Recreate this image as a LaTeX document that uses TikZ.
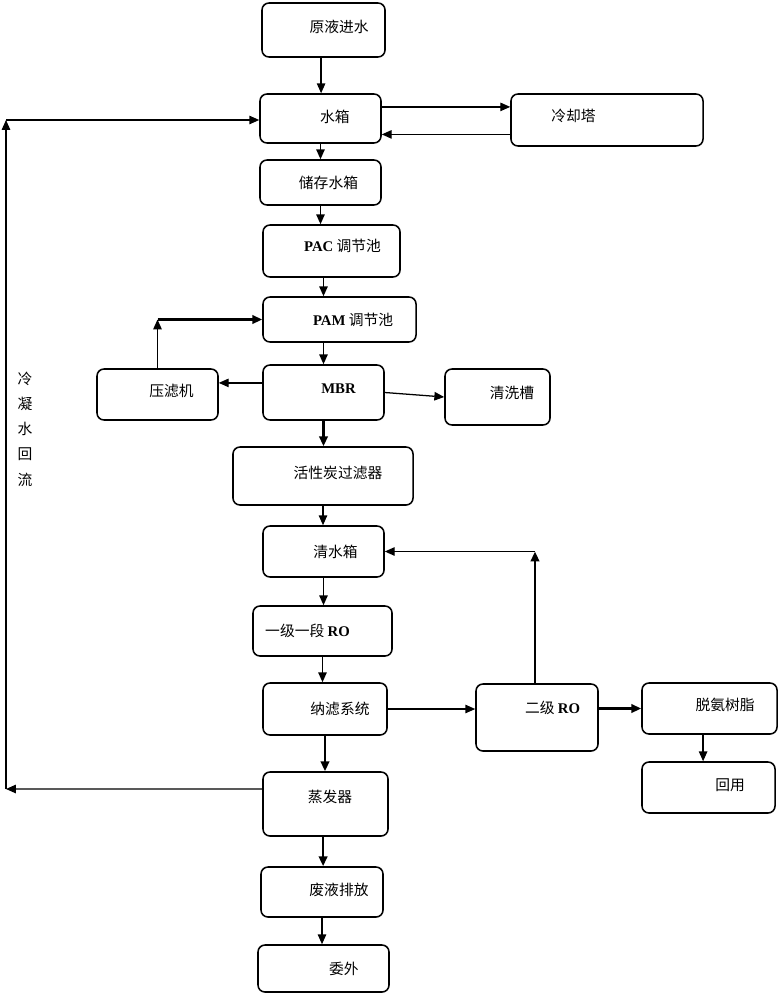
\documentclass[tikz,border=0pt]{standalone}
\usepackage{fontspec}
\setmainfont{Liberation Serif}
\newfontfamily\cjk{Noto Sans CJK SC}
\usepackage{tikz}
\usetikzlibrary{arrows.meta}
\newcommand{\eng}[1]{{\rmfamily\bfseries #1}}

\begin{document}
\begin{tikzpicture}[x=0.025cm, y=-0.025cm,
    box/.style = {draw, line width=1.1pt, rounded corners=5pt},
    txt/.style = {font=\cjk\fontsize{10.5}{12}\selectfont},
    arr/.style = {line width=0.9pt, -{Triangle[length=7pt,width=6pt]}},
    thk/.style = {line width=1.7pt, -{Triangle[length=7pt,width=6pt]}}
    ]
    \useasboundingbox (0,0) rectangle (780,1000);

    % 主流程
    \node[box, minimum width=3.075cm, minimum height=1.35cm,
        label={[txt, xshift=0.39cm, yshift=0.075cm]center:原液进水}] (yuan) at (323.5,30) {};
    \node[box, minimum width=3.025cm, minimum height=1.225cm,
        label={[txt, xshift=0.36cm, yshift=0.04cm]center:水箱}] (shuixiang) at (320.5,118.5) {};
    \node[box, minimum width=4.8cm, minimum height=1.3cm,
        label={[txt, xshift=-0.84cm, yshift=0.1cm]center:冷却塔}] (lengque) at (607,120) {};
    \node[box, minimum width=3.025cm, minimum height=1.125cm,
        label={[txt, xshift=0.2cm]center:储存水箱}] (chucun) at (320.5,182.5) {};
    \node[box, minimum width=3.425cm, minimum height=1.3cm,
        label={[txt, xshift=0.275cm, yshift=0.125cm]center:\eng{PAC} 调节池}] (pac) at (331.5,251) {};
    \node[box, minimum width=3.825cm, minimum height=1.125cm,
        label={[txt, xshift=0.34cm]center:\eng{PAM} 调节池}] (pam) at (339.5,319.5) {};
    \node[box, minimum width=3.025cm, minimum height=1.275cm,
        label={[txt, xshift=0.35cm, yshift=0.09cm]center:压滤机}] (yalv) at (157.5,394.5) {};
    \node[box, minimum width=3.025cm, minimum height=1.375cm,
        label={[txt, xshift=0.375cm, yshift=0.09cm]center:\eng{MBR}}] (mbr) at (323.5,392.5) {};
    \node[box, minimum width=2.625cm, minimum height=1.4cm,
        label={[txt, xshift=0.36cm, yshift=0.1cm]center:清洗槽}] (qingxi) at (497.5,397) {};
    \node[box, minimum width=4.5cm, minimum height=1.45cm,
        label={[txt, xshift=0.375cm, yshift=0.075cm]center:活性炭过滤器}] (huoxing) at (323,476) {};
    \node[box, minimum width=3.025cm, minimum height=1.275cm,
        label={[txt, xshift=0.3cm]center:清水箱}] (qingshui) at (323.5,551.5) {};
    \node[box, minimum width=3.475cm, minimum height=1.25cm,
        label={[txt, xshift=-0.375cm]center:一级一段 \eng{RO}}] (yiji) at (322.5,631) {};
    \node[box, minimum width=3.1cm, minimum height=1.3cm,
        label={[txt, xshift=0.375cm]center:纳滤系统}] (nalv) at (325,709) {};
    \node[box, minimum width=3.05cm, minimum height=1.675cm,
        label={[txt, xshift=0.39cm, yshift=0.24cm]center:二级 \eng{RO}}] (erji) at (537,717.5) {};
    \node[box, minimum width=3.375cm, minimum height=1.275cm,
        label={[txt, xshift=0.39cm, yshift=0.09cm]center:脱氨树脂}] (tuoan) at (709.5,708.5) {};
    \node[box, minimum width=3.325cm, minimum height=1.275cm,
        label={[txt, xshift=0.54cm, yshift=0.06cm]center:回用}] (huiyong) at (708.5,787.5) {};
    \node[box, minimum width=3.125cm, minimum height=1.6cm,
        label={[txt, xshift=0.11cm, yshift=0.175cm]center:蒸发器}] (zhengfa) at (325.5,804) {};
    \node[box, minimum width=3.05cm, minimum height=1.25cm,
        label={[txt, xshift=0.425cm, yshift=0.05cm]center:废液排放}] (feiye) at (322,892) {};
    \node[box, minimum width=3.275cm, minimum height=1.175cm,
        label={[txt, xshift=0.51cm]center:委外}] (weiwai) at (323.5,968.5) {};

    % 冷凝水回流
    \node[txt, align=center, font=\cjk\fontsize{10.5}{18}\selectfont] (huiliu) at (25,429)
        {冷\\凝\\水\\回\\流};
    \coordinate (loopbot) at (6,789);
    \coordinate (looptop) at (6,120);

    % 连线
    \draw[arr] ([xshift=-0.06cm]yuan.south) -- ([xshift=-0.06cm]yuan.south |- shuixiang.north);
    \draw[arr] ([yshift=0.29cm]shuixiang.east) -- ([yshift=0.29cm]shuixiang.east -| lengque.west);
    \draw[arr] ([yshift=-0.36cm]lengque.west) -- ([yshift=-0.36cm]lengque.west -| shuixiang.east);
    \draw[arr] (shuixiang.south) -- (shuixiang.south |- chucun.north);
    \draw[arr] (chucun.south) -- (chucun.south |- pac.north);
    \draw[arr] ([xshift=-0.2cm]pac.south) -- ([xshift=-0.2cm]pac.south |- pam.north);
    \draw[arr] ([xshift=-0.4cm]pam.south) -- ([xshift=-0.4cm]pam.south |- mbr.north);
    \draw[arr] (yalv.north) -- (yalv.north |- pam.west);
    \draw[thk] (yalv.north |- pam.west) -- (pam.west);
    \draw[arr] ([yshift=0.24cm]mbr.west) -- ([yshift=0.24cm]mbr.west -| yalv.east);
    \draw[arr] (mbr.east) -- (qingxi.west);
    \draw[thk] (mbr.south) -- (mbr.south |- huoxing.north);
    \draw[arr] (huoxing.south) -- (huoxing.south |- qingshui.north);
    \draw[arr] (qingshui.south) -- (qingshui.south |- yiji.north);
    \draw[arr] (yiji.south) -- (yiji.south |- nalv.north);
    \draw[thk] (nalv.south) -- (nalv.south |- zhengfa.north);
    \draw[arr] (nalv.east) -- (nalv.east -| erji.west);
    \draw[thk] (erji.east |- tuoan.west) -- (tuoan.west);
    \draw[arr] ([xshift=-0.16cm]tuoan.south) -- ([xshift=-0.16cm]tuoan.south |- huiyong.north);
    \draw[thk] ([xshift=-0.05cm]erji.north) -- ([xshift=-0.05cm]erji.north |- qingshui.east);
    \draw[arr] ([xshift=-0.05cm]erji.north |- qingshui.east) -- (qingshui.east);
    \draw[thk] ([xshift=-0.06cm]zhengfa.south) -- ([xshift=-0.06cm]zhengfa.south |- feiye.north);
    \draw[arr] (feiye.south) -- (feiye.south |- weiwai.north);
    \draw[arr] ([yshift=0.375cm]zhengfa.west) -- (loopbot);
    \draw[arr] (loopbot) -- (looptop);
    \draw[arr] (looptop) -- (looptop -| shuixiang.west);
\end{tikzpicture}
\end{document}
